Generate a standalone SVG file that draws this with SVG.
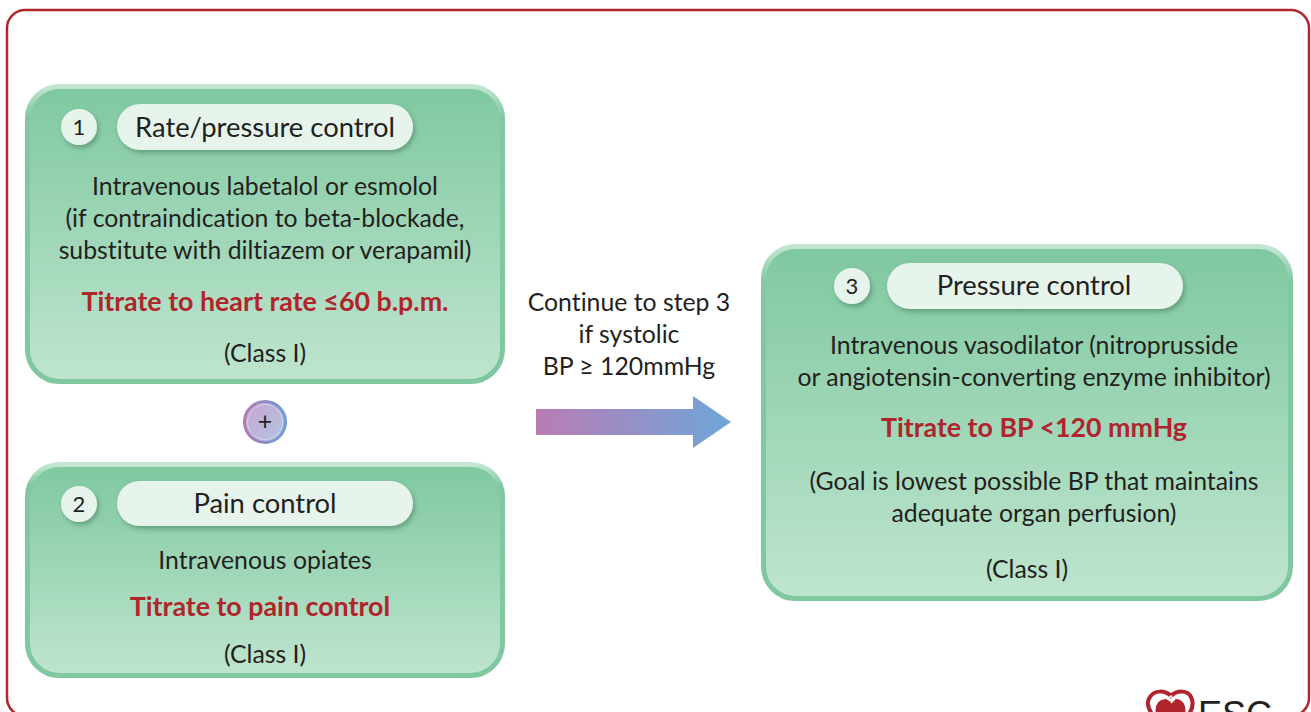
<svg xmlns="http://www.w3.org/2000/svg" width="1311" height="712" viewBox="0 0 1311 712">
<style>
text{font-family:"Lato","Liberation Sans",sans-serif;fill:#231f20;text-anchor:middle;font-variant-ligatures:none}
.b{font-size:24.800px}
.h{font-size:27.400px}
.r{font-size:26.800px;font-weight:700;fill:#b0242b}
.n{font-size:22px}
.p{font-size:25px}
.box{fill:url(#fill);stroke:url(#edge);stroke-width:5}
.pill{fill:#e6f4ec;filter:url(#sh)}
</style>
<defs>
<linearGradient id="fill" x1="0" y1="0" x2="0" y2="1"><stop offset="0" stop-color="#7fc8a0"/><stop offset="1" stop-color="#bfe5cf"/></linearGradient>
<linearGradient id="edge" x1="0" y1="0" x2="0" y2="1"><stop offset="0" stop-color="#c3e6d2"/><stop offset="0.1" stop-color="#80c9a0"/><stop offset="1" stop-color="#7fc8a0"/></linearGradient>
<linearGradient id="arr" x1="0" y1="0" x2="1" y2="0"><stop offset="0" stop-color="#b97cb4"/><stop offset="1" stop-color="#6ea6d9"/></linearGradient>
<linearGradient id="plusE" x1="0" y1="0" x2="1" y2="0"><stop offset="0" stop-color="#b07ab5"/><stop offset="1" stop-color="#6b9fd6"/></linearGradient>
<linearGradient id="plusF" x1="0" y1="0" x2="1" y2="1"><stop offset="0" stop-color="#c9a6cf"/><stop offset="1" stop-color="#b0c4e3"/></linearGradient>
<filter id="sh" x="-20%" y="-30%" width="140%" height="170%"><feDropShadow dx="2" dy="3" stdDeviation="2.500" flood-color="#3c7a58" flood-opacity="0.55"/></filter>
</defs>
<rect id="frame" x="7" y="10" width="1302" height="706" rx="18" fill="#fff" stroke="#b0242b" stroke-width="2.500"/>
<g id="node1">
<rect class="box" x="27.500" y="86.500" width="475" height="295" rx="32"/>
<circle class="pill" cx="79" cy="127" r="18"/><text class="n" x="79" y="135">1</text>
<rect class="pill" x="117" y="104" width="296" height="46" rx="23"/>
<text class="h" x="265" y="137">Rate/pressure control</text>
<text class="b" x="265" y="195">Intravenous labetalol or esmolol</text>
<text class="b" x="265" y="227">(if contraindication to beta-blockade,</text>
<text class="b" x="265" y="259">substitute with diltiazem or verapamil)</text>
<text class="r" x="265" y="311">Titrate to heart rate ≤60 b.p.m.</text>
<text class="b" x="265" y="362">(Class I)</text>
</g>
<g id="plus">
<circle cx="265" cy="422" r="20.500" fill="url(#plusF)" stroke="url(#plusE)" stroke-width="3"/>
<circle cx="265" cy="422" r="17.500" fill="none" stroke="#d9cfe6" stroke-width="1"/>
<text class="p" x="265" y="430">+</text>
</g>
<g id="node2">
<rect class="box" x="27.500" y="464.500" width="475" height="211" rx="32"/>
<circle class="pill" cx="79" cy="504" r="18"/><text class="n" x="79" y="512">2</text>
<rect class="pill" x="117" y="481" width="296" height="45" rx="22.500"/>
<text class="h" x="265" y="513">Pain control</text>
<text class="b" x="265" y="569">Intravenous opiates</text>
<text class="r" x="260" y="616">Titrate to pain control</text>
<text class="b" x="265" y="663">(Class I)</text>
</g>
<g id="connectors">
<polygon points="536,409 693,409 693,396 731,422 693,448 693,435 536,435" fill="url(#arr)"/>
</g>
<g id="arrow-label">
<text class="b" x="629" y="311">Continue to step 3</text>
<text class="b" x="629" y="343">if systolic</text>
<text class="b" x="629" y="375">BP ≥ 120mmHg</text>
</g>
<g id="node3">
<rect class="box" x="763.500" y="246.500" width="527" height="352" rx="32"/>
<circle class="pill" cx="852" cy="286" r="18"/><text class="n" x="852" y="294">3</text>
<rect class="pill" x="887" y="263" width="296" height="46" rx="23"/>
<text class="h" x="1034" y="295">Pressure control</text>
<text class="b" x="1034" y="354">Intravenous vasodilator (nitroprusside</text>
<text class="b" x="1034" y="386">or angiotensin-converting enzyme inhibitor)</text>
<text class="r" x="1034" y="437">Titrate to BP &lt;120 mmHg</text>
<text class="b" x="1034" y="490">(Goal is lowest possible BP that maintains</text>
<text class="b" x="1034" y="522">adequate organ perfusion)</text>
<text class="b" x="1027" y="578">(Class I)</text>
</g>
<g id="logo">
<path d="M1152 714C1147 707 1147 701 1150 697C1154 690 1165 690 1171 696C1177 690 1188 690 1191 697C1194 703 1193 708 1189 714" fill="#fff" stroke="#b0242b" stroke-width="4"/>
<path d="M1156 714C1154 704 1160 699 1166 699L1171 702L1176 699C1182 699 1187 705 1185 714Z" fill="#b0242b"/>
<path d="M1167 699L1171 696L1174 700L1171 703" fill="none" stroke="#fff" stroke-width="1.500"/>
<text x="1235" y="727" font-size="36" style="font-family:'Liberation Sans',sans-serif">ESC</text>
</g>
</svg>
